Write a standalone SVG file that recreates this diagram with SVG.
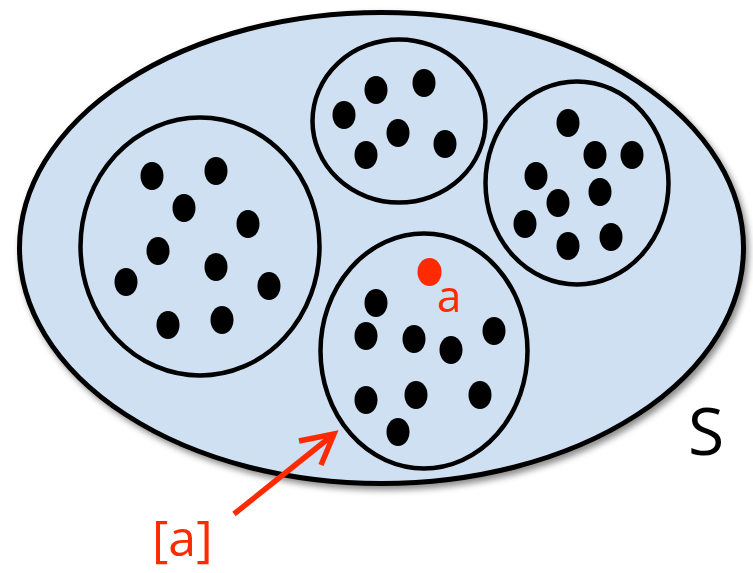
<svg xmlns="http://www.w3.org/2000/svg" width="753" height="573" viewBox="0 0 753 573">
<defs>
<filter id="sh" x="-10%" y="-10%" width="125%" height="125%">
<feDropShadow dx="3" dy="4" stdDeviation="3" flood-color="#000" flood-opacity="0.45"/>
</filter>
</defs>
<style>
.set{fill:#cfe0f2;stroke:#000;stroke-width:5}
.cls{fill:none;stroke:#000;stroke-width:4.5}
.dot{fill:#000}
.red{fill:#ff2a00}
.lbl{font-family:"Open Sans","Liberation Sans",sans-serif}
.arr{fill:none;stroke:#ff2a00;stroke-width:5.5;stroke-linecap:butt;stroke-linejoin:miter}
</style>
<g id="S">
<ellipse class="set" cx="381.5" cy="248" rx="362" ry="235.5" filter="url(#sh)"/>
<text class="lbl" x="688" y="455" font-size="66" fill="#000">S</text>
</g>
<g id="class-left">
<ellipse class="cls" cx="200" cy="246.5" rx="119.5" ry="129"/>
<g class="dot">
<ellipse cx="152" cy="176" rx="11.5" ry="14"/>
<ellipse cx="216" cy="171" rx="11.5" ry="14"/>
<ellipse cx="184" cy="208" rx="11.5" ry="14"/>
<ellipse cx="248" cy="224" rx="11.5" ry="14"/>
<ellipse cx="158" cy="251" rx="11.5" ry="14"/>
<ellipse cx="216" cy="267" rx="11.5" ry="14"/>
<ellipse cx="126" cy="282" rx="11.5" ry="14"/>
<ellipse cx="269" cy="286" rx="11.5" ry="14"/>
<ellipse cx="168" cy="325" rx="11.5" ry="14"/>
<ellipse cx="222" cy="320" rx="11.5" ry="14"/>
</g>
</g>
<g id="class-top">
<ellipse class="cls" cx="399" cy="121" rx="86.5" ry="81.5"/>
<g class="dot">
<ellipse cx="344" cy="115" rx="11.5" ry="14"/>
<ellipse cx="376" cy="90" rx="11.5" ry="14"/>
<ellipse cx="424" cy="83" rx="11.5" ry="14"/>
<ellipse cx="398" cy="133" rx="11.5" ry="14"/>
<ellipse cx="366" cy="155" rx="11.5" ry="14"/>
<ellipse cx="445" cy="144" rx="11.5" ry="14"/>
</g>
</g>
<g id="class-right">
<ellipse class="cls" cx="577" cy="183" rx="91.5" ry="101.5"/>
<g class="dot">
<ellipse cx="568" cy="123" rx="11.5" ry="14"/>
<ellipse cx="595" cy="155" rx="11.5" ry="14"/>
<ellipse cx="632" cy="155" rx="11.5" ry="14"/>
<ellipse cx="536" cy="176" rx="11.5" ry="14"/>
<ellipse cx="600" cy="192" rx="11.5" ry="14"/>
<ellipse cx="558" cy="203" rx="11.5" ry="14"/>
<ellipse cx="525" cy="224" rx="11.5" ry="14"/>
<ellipse cx="568" cy="246" rx="11.5" ry="14"/>
<ellipse cx="611" cy="237" rx="11.5" ry="14"/>
</g>
</g>
<g id="class-a">
<ellipse class="cls" cx="424" cy="351" rx="103.5" ry="117.5"/>
<g class="dot">
<ellipse cx="376" cy="303" rx="11.5" ry="14"/>
<ellipse cx="366" cy="336" rx="11.5" ry="14"/>
<ellipse cx="414" cy="339" rx="11.5" ry="14"/>
<ellipse cx="451" cy="350" rx="11.5" ry="14"/>
<ellipse cx="494" cy="331" rx="11.5" ry="14"/>
<ellipse cx="366" cy="400" rx="11.5" ry="14"/>
<ellipse cx="416" cy="395" rx="11.5" ry="14"/>
<ellipse cx="480" cy="395" rx="11.5" ry="14"/>
<ellipse cx="398" cy="432" rx="11.5" ry="14"/>
</g>
<ellipse class="red" cx="429.5" cy="272" rx="12" ry="14"/>
<text class="lbl" x="437" y="312" font-size="44" fill="#ff2a00">a</text>
</g>
<g id="label-class">
<text class="lbl" x="152" y="556" font-size="50" fill="#ff2a00">[a]</text>
</g>
<g id="connectors">
<path class="arr" d="M234,514 L334,434"/>
<path class="arr" d="M299,441 L334,434 L321,465"/>
</g>
</svg>
